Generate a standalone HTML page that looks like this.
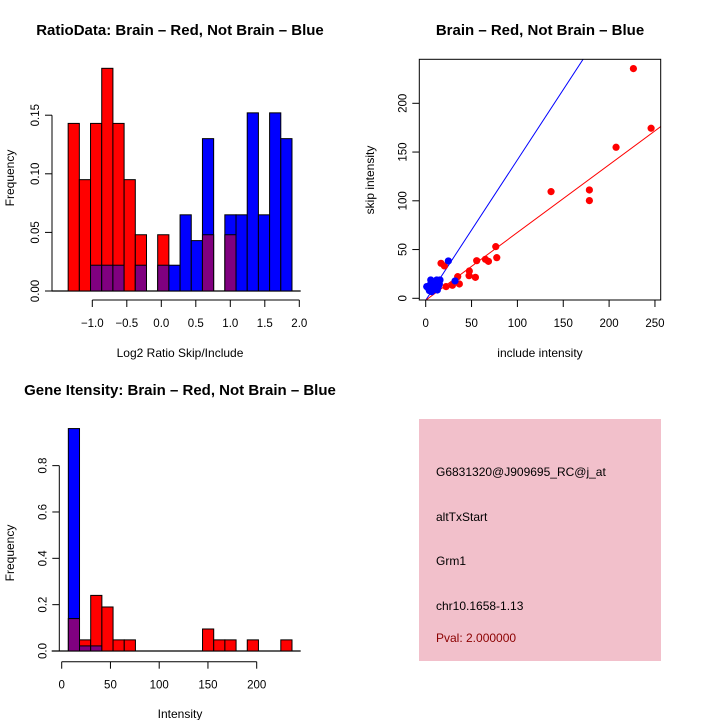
<!DOCTYPE html>
<html><head><meta charset="utf-8"><style>
html,body{margin:0;padding:0;background:#fff;}
svg{display:block;font-family:"Liberation Sans",sans-serif;}
</style></head><body>
<svg id="chart" width="720" height="720" viewBox="0 0 720 720" xmlns="http://www.w3.org/2000/svg">
<g id="p1"></g>
<g id="p2"></g>
<g id="p3"></g>
<g id="p4">
<rect x="419" y="419" width="242" height="242" fill="#f2c0cb"/>
<text x="436" y="476" font-size="12">G6831320@J909695_RC@j_at</text>
<text x="436" y="521" font-size="12">altTxStart</text>
<text x="436" y="565" font-size="12">Grm1</text>
<text x="436" y="610" font-size="12">chr10.1658-1.13</text>
<text x="436" y="642" font-size="12" fill="#8b0000">Pval: 2.000000</text>
</g>
</svg>
<script>
// ---- Ratio histogram data ----
const ratioBinStart = -1.35;
const ratioBinWidth = 0.1622;
const ratioRed = [0.143,0.095,0.143,0.19,0.143,0.095,0.048,0,0.048,0,0,0,0.048,0,0.048,0,0,0,0,0];
const ratioBlue = [0,0,0.022,0.022,0.022,0,0.022,0,0.022,0.022,0.065,0.043,0.130,0,0.065,0.065,0.152,0.065,0.152,0.130];
const ratioXTicks = [-1.0,-0.5,0.0,0.5,1.0,1.5,2.0];
const ratioXTickLabels = ["\u22121.0","\u22120.5","0.0","0.5","1.0","1.5","2.0"];
const ratioYTicks = [0,0.05,0.10,0.15];
const ratioYTickLabels = ["0.00","0.05","0.10","0.15"];
// ---- Scatter data ----
const redIncl = [16.7,20.4,22.2,29.1,34.9,36.7,47.6,47.3,54.2,55.6,65.1,68.4,76.4,77.5,136.7,178.5,178.5,207.6,226.5,245.8];
const redSkip = [35.9,33.2,12.0,13.3,22.2,14.7,28.0,23.2,21.5,38.6,40.0,37.9,53.0,41.7,109.4,111.1,100.2,154.9,235.6,174.4];
const blueIncl = [2.9,4.7,6.5,7.6,9.1,10.2,12,13.8,14.9,12.7,5.5,4,11.3,15.6,6.5,1.1,24.7,32];
const blueSkip = [10.3,13.7,17.1,11.3,15.4,9.2,18.8,12,14.7,8.5,18.8,7.9,13.7,18.8,6.8,12,38.3,17.8];
const redFit = [-2, 0.695];
const blueFit = [-2, 1.44];
const scXTicks = [0,50,100,150,200,250];
const scYTicks = [0,50,100,150,200];
// ---- Intensity histogram data ----
const intBinStart = 6.8;
const intBinWidth = 11.47;
const intRed = [0.14,0.048,0.24,0.19,0.048,0.048,0,0,0,0,0,0,0.095,0.048,0.048,0,0.048,0,0,0.048];
const intBlue = [0.96,0.022,0.022,0,0,0,0,0,0,0,0,0,0,0,0,0,0,0,0,0];
const intXTicks = [0,50,100,150,200];
const intYTicks = [0,0.2,0.4,0.6,0.8];
const intYTickLabels = ["0.0","0.2","0.4","0.6","0.8"];

const NS="http://www.w3.org/2000/svg";
function mk(parent,tag,attrs,text){const e=document.createElementNS(NS,tag);for(const k in attrs)e.setAttribute(k,attrs[k]);if(text!==undefined)e.textContent=text;parent.appendChild(e);return e;}

function histogram(g,o){
  const sx=v=>o.x0px+(v-o.x0v)*o.kx, sy=v=>o.base-v*o.ky;
  mk(g,'line',{x1:o.hl0,x2:o.hl1,y1:o.base,y2:o.base,stroke:'#000','stroke-width':1.3});
  for(let i=0;i<o.red.length;i++){
    const a=o.binStart+i*o.binW,b=a+o.binW,r=o.red[i],bl=o.blue[i];
    const mx=Math.max(r,bl),mn=Math.min(r,bl);
    if(mx>0){const e=mk(g,'rect',{x:sx(a),y:sy(mx),width:sx(b)-sx(a),height:sy(0)-sy(mx),fill:r>=bl?'#ff0000':'#0000ff',stroke:'#000','stroke-width':1});
      
      }
    if(mn>0){const e=mk(g,'rect',{x:sx(a),y:sy(mn),width:sx(b)-sx(a),height:sy(0)-sy(mn),fill:'#800080',stroke:'#000','stroke-width':1});
      
      }
  }
  const ya=mk(g,'line',{x1:o.yax,x2:o.yax,y1:sy(o.yT[0]),y2:sy(o.yT[o.yT.length-1]),stroke:'#000'});
  
  
  o.yT.forEach((t,i)=>{mk(g,'line',{x1:o.yax-7,x2:o.yax,y1:sy(t),y2:sy(t),stroke:'#000'});
    const tx=mk(g,'text',{x:0,y:0,'font-size':11.5,'text-anchor':'middle',transform:`translate(${o.yax-13},${sy(t)}) rotate(-90)`},o.yL[i]);
    
    });
  const xa=mk(g,'line',{x1:sx(o.xT[0]),x2:sx(o.xT[o.xT.length-1]),y1:o.xay,y2:o.xay,stroke:'#000'});
  
  
  o.xT.forEach((t,i)=>{mk(g,'line',{x1:sx(t),x2:sx(t),y1:o.xay,y2:o.xay+7,stroke:'#000'});
    const tx=mk(g,'text',{x:sx(t),y:o.xay+27,'font-size':11.5,'text-anchor':'middle'},o.xL[i]);
    
    });
}

const p1=document.getElementById('p1');
histogram(p1,{x0px:92.3,x0v:-1,kx:69,base:291,ky:1172,binStart:ratioBinStart,binW:ratioBinWidth,red:ratioRed,blue:ratioBlue,
  hl0:51.7,hl1:300.7,yax:52,yT:ratioYTicks,yL:ratioYTickLabels,xay:300,xT:ratioXTicks,xL:ratioXTickLabels});
let t=mk(p1,'text',{x:180,y:35,'font-size':15,'font-weight':'bold','text-anchor':'middle'},'RatioData: Brain \u2013 Red, Not Brain \u2013 Blue');


t=mk(p1,'text',{x:180,y:357,'font-size':12,'text-anchor':'middle'},'Log2 Ratio Skip/Include');


t=mk(p1,'text',{x:0,y:0,'font-size':12,'text-anchor':'middle',transform:'translate(14,178) rotate(-90)'},'Frequency');



const p3=document.getElementById('p3');
histogram(p3,{x0px:61.7,x0v:0,kx:0.975,base:651,ky:231.7,binStart:intBinStart,binW:intBinWidth,red:intRed,blue:intBlue,
  hl0:51.7,hl1:300.7,yax:59.3,yT:intYTicks,yL:intYTickLabels,xay:661.7,xT:intXTicks,xL:intXTicks.map(String)});
t=mk(p3,'text',{x:180,y:395,'font-size':15,'font-weight':'bold','text-anchor':'middle'},'Gene Itensity: Brain \u2013 Red, Not Brain \u2013 Blue');


t=mk(p3,'text',{x:180,y:718,'font-size':12,'text-anchor':'middle'},'Intensity');


t=mk(p3,'text',{x:0,y:0,'font-size':12,'text-anchor':'middle',transform:'translate(14,553) rotate(-90)'},'Frequency');



const p2=document.getElementById('p2');
const sx=v=>425.7+v*0.917, sy=v=>298.3-v*0.975;
const L=419.3,R=660.7,T=59.3,B=300;
mk(p2,'defs',{}).innerHTML='<clipPath id="sc"><rect x="419.3" y="59.3" width="241.4" height="240.7"/></clipPath>';
const clipG=mk(p2,'g',{'clip-path':'url(#sc)'});
function fitLine(f,col,name){const x1=-5,x2=300;const l=mk(clipG,'line',{x1:sx(x1),y1:sy(f[0]+f[1]*x1),x2:sx(x2),y2:sy(f[0]+f[1]*x2),stroke:col,'stroke-width':1});
  
  }
fitLine(blueFit,'#0000ff','blue-fit-line');
fitLine(redFit,'#ff0000','red-fit-line');
redIncl.forEach((x,i)=>{const c=mk(clipG,'circle',{cx:sx(x),cy:sy(redSkip[i]),r:3.6,fill:'#ff0000'});
  
  });
blueIncl.forEach((x,i)=>{const c=mk(clipG,'circle',{cx:sx(x),cy:sy(blueSkip[i]),r:3.6,fill:'#0000ff'});
  
  });
let bx=mk(p2,'rect',{x:L,y:T,width:R-L,height:B-T,fill:'none',stroke:'#000'});


scXTicks.forEach(v=>{mk(p2,'line',{x1:sx(v),x2:sx(v),y1:B,y2:B+7,stroke:'#000'});
  const tx=mk(p2,'text',{x:sx(v),y:B+27,'font-size':11.5,'text-anchor':'middle'},String(v));
  
  });
scYTicks.forEach(v=>{mk(p2,'line',{x1:L-7,x2:L,y1:sy(v),y2:sy(v),stroke:'#000'});
  const tx=mk(p2,'text',{x:0,y:0,'font-size':11.5,'text-anchor':'middle',transform:`translate(${L-13},${sy(v)}) rotate(-90)`},String(v));
  
  });
t=mk(p2,'text',{x:540,y:35,'font-size':15,'font-weight':'bold','text-anchor':'middle'},'Brain \u2013 Red, Not Brain \u2013 Blue');


t=mk(p2,'text',{x:540,y:357,'font-size':12,'text-anchor':'middle'},'include intensity');


t=mk(p2,'text',{x:0,y:0,'font-size':12,'text-anchor':'middle',transform:'translate(374,180) rotate(-90)'},'skip intensity');


</script>
</body></html>
